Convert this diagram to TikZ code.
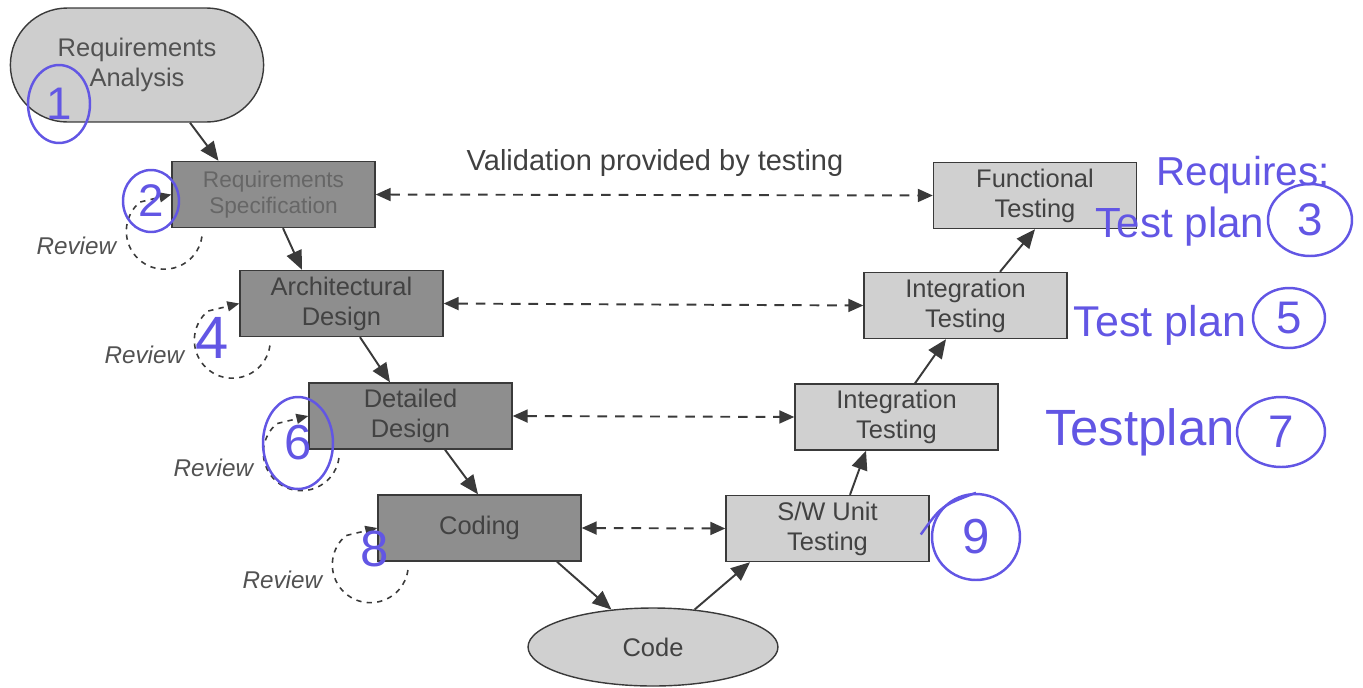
\documentclass[tikz,border=0pt]{standalone}
\usepackage{fontspec}
\setmainfont{Liberation Sans}
\usetikzlibrary{arrows.meta,shapes.geometric,shapes.misc}
\definecolor{ink}{RGB}{58,58,58}
\definecolor{dk}{RGB}{142,142,142}
\definecolor{lt}{RGB}{208,208,208}
\definecolor{pen}{RGB}{98,86,228}

\begin{document}
\begin{tikzpicture}[x=0.02cm,y=-0.02cm,
  phase/.style={draw=ink,line width=0.8pt,minimum width=4.06cm,minimum height=1.32cm,
    align=center,inner sep=0pt,font=\fontsize{14.5}{17}\selectfont},
  dkbox/.style={phase,fill=dk,text=black!74},
  ltbox/.style={phase,fill=lt,text=black!74},
  flow/.style={draw=ink,line width=1.1pt,-{Triangle[length=0.38cm,width=0.32cm]}},
  val/.style={draw=ink,line width=1.1pt,dash pattern=on 5.5pt off 4.5pt,
    {Triangle[length=0.3cm,width=0.26cm]}-{Triangle[length=0.3cm,width=0.26cm]}},
  review/.style={draw=ink,line width=0.9pt,dash pattern=on 3pt off 3pt,
    -{Triangle[length=0.24cm,width=0.2cm]}},
  rev/.style={font=\fontsize{13.8}{16}\selectfont\itshape,text=black!68},
  scrawl/.style={text=pen,inner sep=0pt},
  ring/.style={ellipse,draw=pen,line width=1.4pt,text=pen,inner sep=0pt,
    font=\fontsize{26}{26}\selectfont}]
  \useasboundingbox (0,0) rectangle (1363,687);

  % left leg of the V
  \node[rounded rectangle,draw=ink,line width=0.8pt,fill=lt!105,text=black!68,align=center,
    minimum width=5.3cm,minimum height=2.28cm,font=\fontsize{14.5}{17.5}\selectfont]
    (ra) at (137,65) {Requirements\\Analysis};
  \node[dkbox,font=\fontsize{12.9}{14.7}\selectfont,text=black!60] (rs) at (273.5,194.5) {Requirements\\Specification};
  \node[dkbox] (ad) at (341.5,303.5) {Architectural\\Design};
  \node[dkbox] (dd) at (410.5,416) {Detailed\\Design};
  \node[dkbox] (cd) at (479.5,528) {Coding};
  \node[ellipse,draw=ink,line width=0.8pt,fill=lt,text=black!74,minimum width=5cm,
    minimum height=1.56cm,font=\fontsize{14.5}{17}\selectfont] (code) at (653,647) {Code};

  % right leg of the V
  \node[ltbox] (sw) at (827.5,528.5) {S/W Unit\\Testing};
  \node[ltbox] (il) at (896.5,417) {Integration\\Testing};
  \node[ltbox] (iu) at (965.5,305.5) {Integration\\Testing};
  \node[ltbox] (ft) at (1035,195.5) {Functional\\Testing};

  \node[font=\fontsize{16.5}{20}\selectfont,text=black!75] (vt) at (655,163) {Validation provided by testing};

  \draw[flow] ([xshift=1.06cm]ra.south) -- ([xshift=-1.1cm]rs.north);
  \draw[flow] ([xshift=0.19cm]rs.south) -- ([xshift=-0.79cm]ad.north);
  \draw[flow] ([xshift=0.37cm]ad.south) -- ([xshift=-0.41cm]dd.north);
  \draw[flow] ([xshift=0.69cm]dd.south) -- ([xshift=-0.03cm]cd.north);
  \draw[flow] ([xshift=1.55cm]cd.south) -- (code.138);
  \draw[flow] (code.42) -- ([xshift=-1.55cm]sw.south);
  \draw[flow] ([xshift=0.45cm]sw.north) -- ([xshift=-0.61cm]il.south);
  \draw[flow] ([xshift=0.37cm]il.north) -- ([xshift=-0.39cm]iu.south);
  \draw[flow] ([xshift=0.69cm]iu.north) -- (ft.south);

  \draw[val] (rs.east) -- (ft.west);
  \draw[val] (ad.east) -- (iu.west);
  \draw[val] (dd.east) -- (il.west);
  \draw[val] (cd.east) -- (sw.west);

  % review loops
  \foreach \b in {rs,ad,dd,cd} {
    \draw[review] ([shift={(-7,3)}]\b.south west) ++(-8:0.76cm)
      arc[start angle=-8,end angle=-230,radius=0.76cm] -- (\b.west);
    \node[rev] (rev-\b) at ([shift={(-95,18)}]\b.south west) {Review};
  }

  % pen notes
  \node[ring,minimum width=1.24cm,minimum height=1.56cm] (n1) at (59,104) {1};
  \node[ring,minimum width=1.12cm,minimum height=1.24cm] (n2) at (151,201) {2};
  \node[scrawl,font=\fontsize{34}{34}\selectfont] (n4) at (212,338) {4};
  \node[ring,minimum width=1.4cm,minimum height=1.84cm,font=\fontsize{28}{28}\selectfont] (n6) at (298,443) {6};
  \node[scrawl,font=\fontsize{29}{29}\selectfont] (n8) at (375,549) {8};
  \node[ring,minimum width=1.76cm,minimum height=1.72cm,font=\fontsize{28}{28}\selectfont] (n9) at (976,537) {9};
  \draw[pen,line width=1.4pt] ([xshift=-0.2cm,yshift=0.05cm]n9.west) .. controls ([xshift=-0.05cm]n9.north west) .. (n9.north);

  \node[scrawl,font=\fontsize{23}{23}\selectfont] (req) at (1243,175) {Requires:};
  \node[scrawl,font=\fontsize{24}{24}\selectfont] (tp3) at (1180,227) {Test plan};
  \node[ring,minimum width=1.68cm,minimum height=1.44cm] (n3) at (1310,220) {3};
  \node[scrawl,font=\fontsize{24.5}{24.5}\selectfont] (tp5) at (1160,325) {Test plan};
  \node[ring,minimum width=1.44cm,minimum height=1.2cm] (n5) at (1289,318) {5};
  \node[scrawl,font=\fontsize{29}{29}\selectfont] (tp7) at (1140,432) {Testplan};
  \node[ring,minimum width=1.76cm,minimum height=1.4cm] (n7) at (1281,432) {7};
\end{tikzpicture}
\end{document}
